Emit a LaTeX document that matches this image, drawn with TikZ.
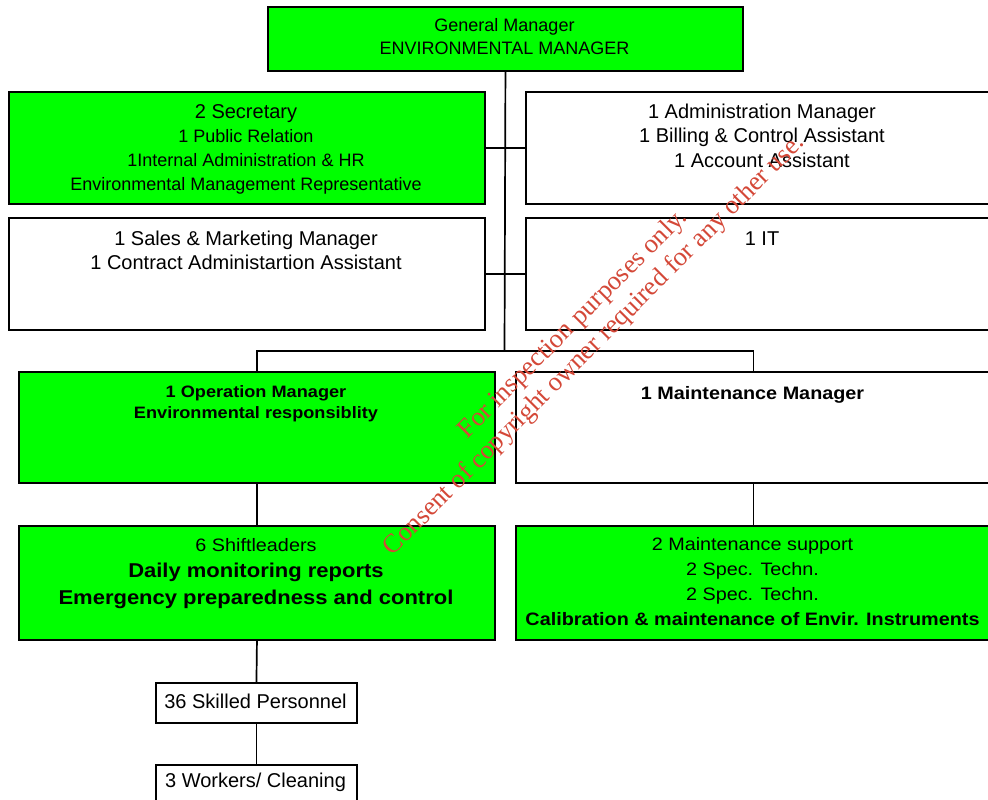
\documentclass[tikz,border=0pt]{standalone}
\usepackage{fontspec}
\setmainfont{Liberation Sans}
\newfontfamily\widefont[FakeStretch=1.1]{Liberation Sans}
\newfontfamily\markfont{Liberation Serif}
\usetikzlibrary{calc}

\definecolor{boxgreen}{RGB}{0,255,0}
\definecolor{markred}{RGB}{212,72,56}

\tikzset{
 box/.style={draw, line width=1.9pt, anchor=north west, inner sep=0pt},
 txt/.style={anchor=base, align=center, inner sep=0pt},
 link/.style={line width=1.7pt},
}

\begin{document}
\begin{tikzpicture}[x=1pt,y=-1pt]

\newcommand{\orgbox}[6][white] % [fill]{name}{x}{y}{w}{h}
{
 \node[box,fill=#1,minimum width=#5pt,minimum height=#6pt] (#2) at (#3,#4) {};
}

\useasboundingbox (0,0) rectangle (988,800);
\clip (0,0) rectangle (988,800);

\def\lw {476} \def\rw {475} \def\tall {112}
\orgbox[boxgreen]{gm}{267}{6}{475}{64}
\orgbox[boxgreen]{sec}{8}{91}{\lw}{\tall}
\orgbox{sal}{8}{217}{\lw}{\tall}
\orgbox{adm}{525}{91}{\rw}{\tall}
\orgbox{it}{525}{217}{\rw}{\tall}
\orgbox[boxgreen]{op}{18}{371}{\lw}{111}
\orgbox{mm}{515}{371}{\rw}{111}
\orgbox[boxgreen]{sl}{18}{525}{\lw}{114}
\orgbox[boxgreen]{ms}{515}{525}{\rw}{114}
\orgbox{sk}{155}{682}{201}{40}
\orgbox{wk}{155}{764}{201}{60}

% connectors
\coordinate (hub) at (504.5,351);
\draw[link] (gm.south) -- (hub);
\draw[link] (op.north) |- (hub) -| (mm.north);
\draw[link] (sec.east) -- (adm.west);
\draw[link] (sal.east) -- (it.west);
\draw[link] (op.south) -- (sl.north);
\draw[link] (mm.south) -- (ms.north);
\draw[link] (sl.south) -- (sk.north);
\draw[link] (sk.south) -- (wk.north);

% texts (base = last line)
\node[txt,font=\fontsize{18}{23}\selectfont] (gm-t) at (504.5,55)
 {General Manager\\ENVIRONMENTAL MANAGER};
\node[txt,font=\fontsize{18}{24}\selectfont] (sec-t) at (246,190)
 {{\fontsize{20}{24}\selectfont 2 Secretary}\\1 Public Relation\\
  1Internal Administration \& HR\\Environmental Management Representative};
\node[txt,font=\fontsize{20}{24.5}\selectfont] (adm-t) at (762,167)
 {1 Administration Manager\\1 Billing \& Control Assistant\\1 Account Assistant};
\node[txt,font=\fontsize{20}{24}\selectfont] (sal-t) at (246,269)
 {1 Sales \& Marketing Manager\\1 Contract Administartion Assistant};
\node[txt,font=\fontsize{20}{24}\selectfont] (it-t) at (762,245) {1 IT};
\node[txt,font=\widefont\bfseries\fontsize{16.5}{21}\selectfont] (op-t) at (256,418)
 {1 Operation Manager\\Environmental responsiblity};
\node[txt,font=\widefont\bfseries\fontsize{18}{24}\selectfont] (mm-t) at (752.5,399)
 {1 Maintenance Manager};
\node[txt,font=\widefont\fontsize{18}{26.5}\selectfont] (sl-t) at (256,604)
 {6 Shiftleaders\\{\bfseries\fontsize{20}{26.5}\selectfont Daily monitoring reports}\\
  {\bfseries\fontsize{20}{26.5}\selectfont Emergency preparedness and control}};
\node[txt,font=\widefont\fontsize{18}{24.7}\selectfont] (ms-t) at (752.5,625)
 {2 Maintenance support\\2 Spec. Techn.\\2 Spec. Techn.\\
  {\bfseries Calibration \& maintenance of Envir. Instruments}};
\node[txt,font=\fontsize{20}{24}\selectfont] (sk-t) at (255.5,708) {36 Skilled Personnel};
\node[txt,font=\fontsize{20}{24}\selectfont] (wk-t) at (255.5,787) {3 Workers/ Cleaning};

% stamp
\node[font=\markfont\fontsize{26.5}{30}\selectfont,text=markred,rotate=45,align=center]
 (mark) at (584,335) {For inspection purposes only.\\
  Consent of copyright owner required for any other use.};

\end{tikzpicture}
\end{document}
